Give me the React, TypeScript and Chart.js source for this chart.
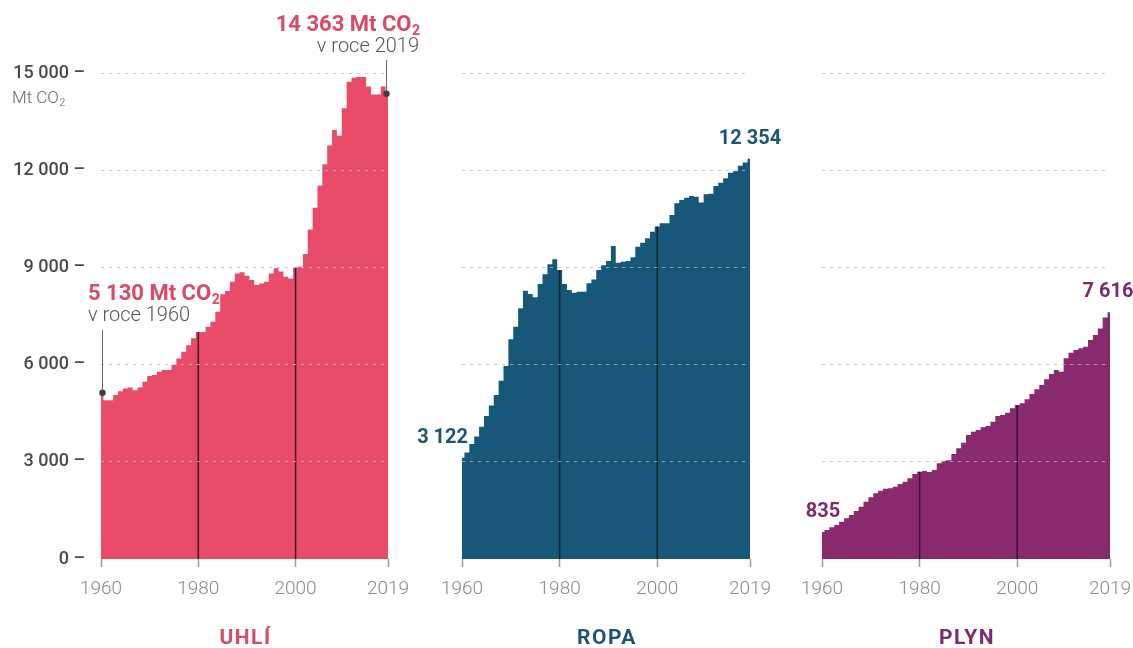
import React, { useEffect, useRef } from 'react';
import { Chart, registerables } from 'chart.js';

Chart.register(...registerables);

// ---------- data ----------
const years: number[] = Array.from({ length: 60 }, (_, i) => 1960 + i);

const coal: number[] = [
  5130, 4900, 4900, 5060, 5180, 5260, 5290, 5210, 5290, 5470,
  5650, 5680, 5780, 5830, 5830, 5990, 6190, 6400, 6600, 6810,
  7010, 7010, 7170, 7320, 7630, 8170, 8270, 8560, 8810, 8850,
  8740, 8610, 8460, 8500, 8560, 8810, 8970, 8870, 8710, 8660,
  9000, 9020, 9410, 10170, 10840, 11520, 12180, 12760, 13240, 13060,
  13910, 14730, 14850, 14880, 14880, 14580, 14340, 14340, 14580, 14363,
];

const oil: number[] = [
  3122, 3290, 3550, 3780, 4080, 4410, 4740, 5060, 5500, 5960,
  6780, 7170, 7740, 8280, 8180, 8080, 8490, 8790, 9100, 9250,
  8920, 8490, 8300, 8220, 8250, 8250, 8510, 8630, 8920, 9070,
  9200, 9660, 9140, 9175, 9200, 9310, 9640, 9760, 9900, 10100,
  10260, 10360, 10360, 10620, 10980, 11080, 11150, 11200, 11180, 11000,
  11260, 11270, 11510, 11610, 11750, 11920, 11970, 12140, 12240, 12354,
];

const gas: number[] = [
  835, 895, 977, 1049, 1152, 1255, 1358, 1481, 1615, 1769,
  1903, 2026, 2108, 2170, 2180, 2232, 2314, 2386, 2489, 2623,
  2695, 2716, 2685, 2747, 2952, 3035, 3050, 3240, 3415, 3590,
  3827, 3930, 3981, 4064, 4105, 4238, 4413, 4444, 4516, 4650,
  4752, 4804, 4928, 5092, 5236, 5370, 5545, 5709, 5833, 5781,
  6193, 6368, 6450, 6501, 6553, 6758, 6912, 7118, 7457, 7616,
];

const xTickYears: number[] = [1960, 1980, 2000, 2019];
const yTickValues: number[] = [0, 3000, 6000, 9000, 12000, 15000];
const markerYears: number[] = [1980, 2000];
const panelTitles: string[] = ['UHLÍ', 'ROPA', 'PLYN'];
const unitLabel = 'Mt CO';
const yearPrefix = 'v roce ';

// ---------- styling / layout ----------
const W = 1133;
const H = 648;
const FONT = 'Roboto, "Noto Sans", sans-serif';
const gridColor = 'rgba(190,190,190,0.78)';

const fmt = (n: number) => String(Math.round(n)).replace(/\B(?=(\d{3})+(?!\d))/g, ' ');

type ValueLabel = { year: number; align: CanvasTextAlign; dx: number };
type Callout = { year: number; dx: number; lineTop: number; textX: number; align: 'left' | 'right'; y1: number; y2: number };

type Panel = {
  key: string;
  title: string;
  values: number[];
  color: string;
  textColor: string;
  markerColor: string;
  left: number;
  right: number;
  showY: boolean;
  valueLabels: ValueLabel[];
  callouts: Callout[];
};

const panels: Panel[] = [
  {
    key: 'coal', title: panelTitles[0], values: coal,
    color: '#E84C69', textColor: '#D94A68', markerColor: 'rgba(40,20,25,0.9)',
    left: 101, right: 388, showY: true, valueLabels: [],
    callouts: [
      { year: 2019, dx: -1.5, lineTop: 60, textX: 420, align: 'right', y1: 31, y2: 52 },
      { year: 1960, dx: 1.5, lineTop: 330, textX: 88, align: 'left', y1: 300, y2: 321 },
    ],
  },
  {
    key: 'oil', title: panelTitles[1], values: oil,
    color: '#175878', textColor: '#1B5574', markerColor: 'rgba(15,30,40,0.9)',
    left: 462, right: 750, showY: false,
    valueLabels: [
      { year: 1960, align: 'right', dx: 6 },
      { year: 2019, align: 'center', dx: 0 },
    ],
    callouts: [],
  },
  {
    key: 'gas', title: panelTitles[2], values: gas,
    color: '#892A6F', textColor: '#7C2B6B', markerColor: 'rgba(45,15,40,0.9)',
    left: 822, right: 1110, showY: false,
    valueLabels: [
      { year: 1960, align: 'center', dx: 1 },
      { year: 2019, align: 'center', dx: -2 },
    ],
    callouts: [],
  },
];

function drawWithSub(
  ctx: CanvasRenderingContext2D, main: string, sub: string, x: number, y: number,
  align: 'left' | 'right', size: number, weight: string, color: string,
) {
  const subSize = Math.round(size * 0.62);
  ctx.font = `${weight} ${size}px ${FONT}`;
  const w1 = ctx.measureText(main).width;
  ctx.font = `${weight} ${subSize}px ${FONT}`;
  const w2 = ctx.measureText(sub).width;
  const x0 = align === 'right' ? x - (w1 + w2 + 0.5) : x;
  ctx.fillStyle = color;
  ctx.textAlign = 'left';
  ctx.textBaseline = 'alphabetic';
  ctx.font = `${weight} ${size}px ${FONT}`;
  ctx.fillText(main, x0, y);
  ctx.font = `${weight} ${subSize}px ${FONT}`;
  ctx.fillText(sub, x0 + w1 + 0.5, y + size * 0.2);
}

function overlayPlugin(p: Panel) {
  return {
    id: 'overlay_' + p.key,
    afterDatasetsDraw(chart: any) {
      const { ctx } = chart;
      const xs = chart.scales.x;
      const ys = chart.scales.y;
      ctx.save();
      ctx.strokeStyle = p.markerColor;
      ctx.lineWidth = 1.5;
      markerYears.forEach((yr) => {
        const v = p.values[years.indexOf(yr)];
        const px = xs.getPixelForValue(yr);
        ctx.beginPath();
        ctx.moveTo(px, ys.getPixelForValue(0));
        ctx.lineTo(px, ys.getPixelForValue(v));
        ctx.stroke();
      });
      ctx.restore();
    },
    afterDraw(chart: any) {
      const { ctx, chartArea } = chart;
      const xs = chart.scales.x;
      const ys = chart.scales.y;
      ctx.save();

      // callouts (coal)
      p.callouts.forEach((c) => {
        const v = p.values[years.indexOf(c.year)];
        const px = xs.getPixelForValue(c.year) + c.dx;
        const py = ys.getPixelForValue(v);
        ctx.strokeStyle = '#6a6a6a';
        ctx.lineWidth = 1;
        ctx.beginPath();
        ctx.moveTo(px, c.lineTop);
        ctx.lineTo(px, py);
        ctx.stroke();
        ctx.fillStyle = '#3e3e3e';
        ctx.beginPath();
        ctx.arc(px, py, 3.2, 0, Math.PI * 2);
        ctx.fill();
        drawWithSub(ctx, fmt(v) + ' ' + unitLabel, '2', c.textX, c.y1, c.align, 22, 'bold', p.textColor);
        ctx.font = `300 20px ${FONT}`;
        ctx.fillStyle = '#555555';
        ctx.textAlign = c.align;
        ctx.textBaseline = 'alphabetic';
        ctx.fillText(yearPrefix + c.year, c.textX - (c.align === 'right' ? 1 : 0), c.y2);
      });

      // value labels (oil, gas)
      p.valueLabels.forEach((l) => {
        const v = p.values[years.indexOf(l.year)];
        const px = xs.getPixelForValue(l.year) + l.dx;
        const py = ys.getPixelForValue(v) - 20;
        ctx.font = `bold 20px ${FONT}`;
        ctx.fillStyle = p.textColor;
        ctx.textAlign = l.align;
        ctx.textBaseline = 'middle';
        ctx.fillText(fmt(v), px, py);
      });

      // unit under top y tick
      if (p.showY) {
        drawWithSub(ctx, unitLabel, '2', 12, ys.getPixelForValue(15000) + 30, 'left', 17, '300', '#666666');
      }

      // panel title
      ctx.font = `bold 21px ${FONT}`;
      (ctx as any).letterSpacing = '1.5px';
      ctx.fillStyle = p.textColor;
      ctx.textAlign = 'center';
      ctx.textBaseline = 'middle';
      ctx.fillText(p.title, (chartArea.left + chartArea.right) / 2 + 1, 639);
      (ctx as any).letterSpacing = '0px';
      ctx.restore();
    },
  };
}

function makeChart(canvas: HTMLCanvasElement, p: Panel) {
  return new Chart(canvas, {
    type: 'line',
    data: {
      datasets: [
        {
          data: years.map((yr, i) => ({ x: yr, y: p.values[i] })),
          stepped: 'middle',
          fill: 'origin',
          backgroundColor: p.color,
          borderColor: p.color,
          borderWidth: 0,
          pointRadius: 0,
        } as any,
      ],
    },
    options: {
      animation: false,
      responsive: false,
      maintainAspectRatio: false,
      events: [],
      layout: { padding: { left: p.showY ? 0 : p.left, right: W - p.right, top: 73, bottom: 0 } },
      plugins: { legend: { display: false }, tooltip: { enabled: false }, title: { display: false } },
      scales: {
        x: {
          type: 'linear',
          min: 1960,
          max: 2019,
          border: { display: false },
          grid: { drawOnChartArea: false, drawTicks: true, tickLength: 8, tickColor: '#9c9c9c', tickWidth: 1.5 },
          afterBuildTicks: (s: any) => { s.ticks = xTickYears.map((v) => ({ value: v })); },
          afterFit: (s: any) => {
            s.height = H - 559;
            s.paddingLeft = 0;
            s.paddingRight = 0;
          },
          ticks: {
            padding: 11,
            color: '#8a8a8a',
            autoSkip: false,
            maxRotation: 0,
            font: { family: FONT, size: 19, weight: '300' as any },
            callback: (v: any) => String(v),
          },
        },
        y: {
          min: 0,
          max: 15000,
          border: { display: false, dash: [3, 5] },
          afterBuildTicks: (s: any) => { s.ticks = yTickValues.map((v) => ({ value: v })); },
          afterFit: (s: any) => {
            s.width = p.showY ? p.left : 0;
            s.paddingTop = 0;
            s.paddingBottom = 0;
          },
          grid: {
            z: 1,
            drawTicks: false,
            tickLength: 0,
            lineWidth: 1,
            color: (c: any) => (c.tick && c.tick.value === 0 ? 'rgba(0,0,0,0)' : gridColor),
          },
          ticks: {
            display: p.showY,
            padding: 16,
            color: '#4a4a4a',
            font: { family: FONT, size: 18, weight: '500' as any },
            callback: (v: any) => fmt(Number(v)) + ' –',
          },
        },
      },
    } as any,
    plugins: [overlayPlugin(p)],
  });
}

function PanelCanvas({ panel }: { panel: Panel }) {
  const ref = useRef<HTMLCanvasElement | null>(null);
  useEffect(() => {
    if (!ref.current) return;
    const chart = makeChart(ref.current, panel);
    return () => chart.destroy();
  }, [panel]);
  return (
    <canvas
      ref={ref}
      width={W}
      height={H}
      style={{ position: 'absolute', left: 0, top: 0, width: W, height: H }}
    />
  );
}

export default function App() {
  return (
    <div style={{ position: 'absolute', left: 0, top: 0, width: W, height: H, background: '#ffffff', overflow: 'hidden' }}>
      {panels.map((p) => (
        <PanelCanvas key={p.key} panel={p} />
      ))}
    </div>
  );
}
